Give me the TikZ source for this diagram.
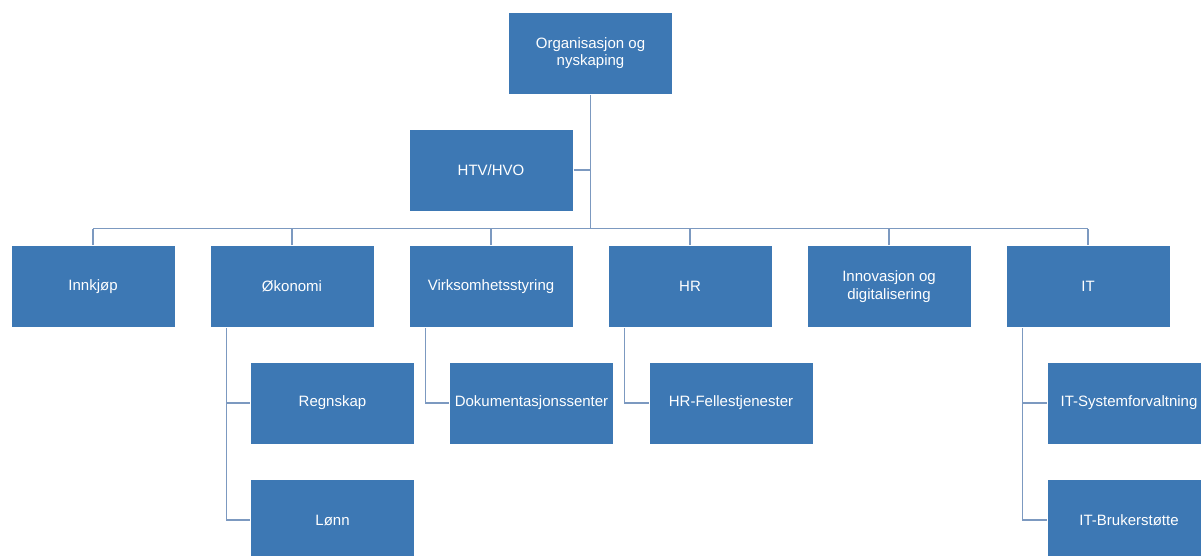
\documentclass[tikz,border=0pt]{standalone}
\usepackage{fontspec}
\setmainfont{Liberation Sans}
\usetikzlibrary{calc}
\definecolor{boxblue}{RGB}{61,120,180}
\definecolor{linkcol}{RGB}{124,153,192}
\tikzset{
  orgbox/.style={rectangle, fill=boxblue, draw=white, line width=1pt, minimum width=164pt, minimum height=82pt, inner sep=2pt, text=white, align=center, font=\fontsize{15pt}{17.5pt}\selectfont},
  link/.style={draw=linkcol, line width=1.3pt}
}
\begin{document}
\begin{tikzpicture}[x=1pt,y=-1pt]
\useasboundingbox (0,0) rectangle (1201,555);
\clip (0,0) rectangle (1201,555);
\node[orgbox] (top) at (590.5,53) {Organisasjon og\\nyskaping};
\node[orgbox] (htv) at (491,170) {HTV/HVO};
\node[orgbox] (innk) at (93,286.5) {Innkjøp};
\node[orgbox] (oko) at (292,286.5) {Økonomi};
\node[orgbox] (virk) at (491,286.5) {Virksomhetsstyring};
\node[orgbox] (hr) at (690,286.5) {HR};
\node[orgbox] (inno) at (889,286.5) {Innovasjon og\\digitalisering};
\node[orgbox] (it) at (1088,286.5) {IT};
\node[orgbox] (regn) at (332.5,403) {Regnskap};
\node[orgbox] (lonn) at (332.5,520) {Lønn};
\node[orgbox] (dok) at (531.5,403) {Dokumentasjonssenter};
\node[orgbox] (hrf) at (731,403) {HR-Fellestjenester};
\node[orgbox] (itsys) at (1129,403) {IT-Systemforvaltning};
\node[orgbox] (itbr) at (1129,520) {IT-Brukerstøtte};
\coordinate (bus) at (590.5,228.5);
\coordinate (busL) at (93,228.5);
\coordinate (busR) at (1088,228.5);
\begin{scope}[on background layer/.style={}]
\path[link] (top.south) -- (bus);
\path[link] (htv.east) -- (htv.east -| top.south);
\path[link] (busL) -- (busR);
\foreach \n in {innk,oko,virk,hr,inno,it}{
  \path[link] (\n.north) -- (\n.north |- bus);
}
\path[link] ($(oko.south west)+(17,0)$) |- (regn.west);
\path[link] ($(oko.south west)+(17,0)$) |- (lonn.west);
\path[link] ($(virk.south west)+(17,0)$) |- (dok.west);
\path[link] ($(hr.south west)+(17,0)$) |- (hrf.west);
\path[link] ($(it.south west)+(17,0)$) |- (itsys.west);
\path[link] ($(it.south west)+(17,0)$) |- (itbr.west);
\end{scope}
\end{tikzpicture}
\end{document}
